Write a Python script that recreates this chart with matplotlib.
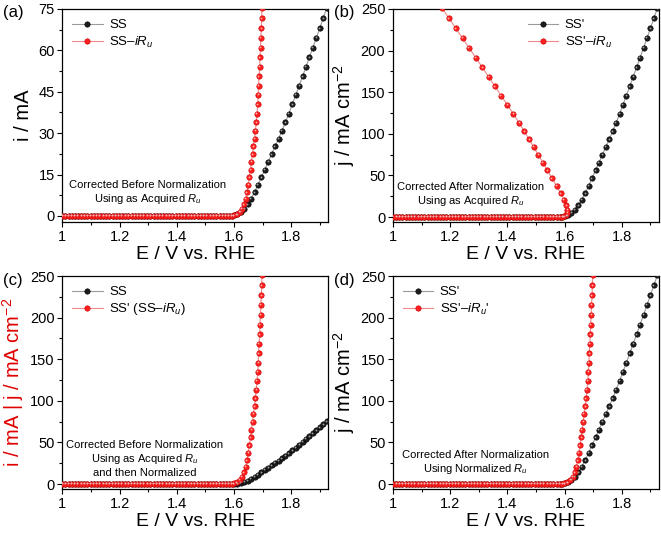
import matplotlib
matplotlib.use("Agg")
import matplotlib.pyplot as plt
import matplotlib.transforms as mtransforms
from matplotlib.ticker import MultipleLocator, FormatStrFormatter

plt.rcParams['font.family'] = 'Liberation Sans'
plt.rcParams['mathtext.fontset'] = 'custom'
plt.rcParams['mathtext.rm'] = 'Liberation Sans'
plt.rcParams['mathtext.it'] = 'Liberation Sans:italic'

# flat part of the sweep (no current, no correction)
E_base = [1.000, 1.011, 1.022, 1.033, 1.044, 1.055, 1.066, 1.077, 1.088, 1.099,
          1.110, 1.121, 1.132, 1.143, 1.154, 1.165, 1.176, 1.187, 1.198, 1.209,
          1.220, 1.231, 1.242, 1.253, 1.264, 1.275, 1.286, 1.297, 1.308, 1.319,
          1.330, 1.341, 1.352, 1.363, 1.374, 1.385, 1.396, 1.407, 1.418, 1.429,
          1.440, 1.451, 1.462, 1.473, 1.484, 1.495, 1.506, 1.517, 1.528, 1.539,
          1.550, 1.561, 1.572, 1.583, 1.592]
i_base = [0.0] * len(E_base)

# SS: raw sweep, current in mA
E_ss = [1.600, 1.612, 1.624, 1.636, 1.648, 1.660, 1.672, 1.684, 1.696, 1.708,
        1.720, 1.732, 1.744, 1.756, 1.768, 1.780, 1.792, 1.804, 1.816, 1.828,
        1.840, 1.852, 1.864, 1.876, 1.888, 1.900, 1.912, 1.924]
i_ss = [0.2, 0.6, 1.4, 2.6, 4.2, 6.2, 8.6, 11.2, 14.0, 16.8,
        19.6, 22.4, 25.2, 28.0, 30.9, 33.9, 37.1, 40.4, 43.8, 47.2,
        50.6, 54.0, 57.5, 61.0, 64.5, 68.0, 71.6, 75.2]

# SS-iRu: corrected potential
E_ss_ir = [1.599, 1.610, 1.620, 1.628, 1.635, 1.641, 1.646, 1.650, 1.654, 1.658,
           1.661, 1.665, 1.668, 1.672, 1.675, 1.678, 1.681, 1.683, 1.685, 1.686,
           1.688, 1.690, 1.691, 1.693, 1.694, 1.696, 1.697, 1.698]

# SS': normalised current density, mA cm-2
j_ss = [0.7, 2.0, 4.7, 8.7, 14.0, 20.7, 28.7, 37.3, 46.7, 56.0,
        65.3, 74.7, 84.0, 93.3, 103.0, 113.0, 123.7, 134.7, 146.0, 157.3,
        168.7, 180.0, 191.7, 203.3, 215.0, 226.7, 238.7, 250.7]

# SS'-iRu with the as-acquired Ru (panel b)
E_ss_ir_b = [1.598, 1.606, 1.610, 1.610, 1.606, 1.598, 1.586, 1.572, 1.556, 1.540,
             1.524, 1.508, 1.492, 1.476, 1.459, 1.441, 1.421, 1.400, 1.378, 1.356,
             1.334, 1.312, 1.289, 1.266, 1.243, 1.220, 1.196, 1.172]

x_black = E_base + E_ss
x_red = E_base + E_ss_ir
x_red_b = E_base + E_ss_ir_b
y_i = i_base + i_ss
y_j = i_base + j_ss

fig = plt.figure(figsize=(6.61, 5.34), dpi=100)
W, H = 661, 534
boxes = {'a': (62.3, 9), 'b': (393, 9), 'c': (62.3, 276), 'd': (393, 276)}
axw, axh = 266, 213
axes = {}
for k, (l, t) in boxes.items():
    axes[k] = fig.add_axes([l / W, 1 - (t + axh) / H, axw / W, axh / H])

LEG = dict(frameon=False, fontsize=9.5, handlelength=2.3, borderaxespad=0.35,
           labelspacing=0.25, handletextpad=0.5)
NOTE = dict(ha='center', va='center', fontsize=8, linespacing=1.25)


def balls(ax, x, y, red, label):
    if red:
        line, face, edge, shine = '#f08a8a', '#ff1f1f', '#c80000', '#ffb0b0'
    else:
        line, face, edge, shine = '#9a9a9a', '#1c1c1c', '#000000', '#a0a0a0'
    ax.plot(x, y, '-', color=line, lw=0.8, marker='o', ms=3.9, mfc=face,
            mec=edge, mew=0.4, label=label, zorder=3)
    hl = mtransforms.offset_copy(ax.transData, fig=ax.figure, x=-0.45, y=0.45, units='points')
    ax.plot(x, y, ls='none', marker='o', ms=1.3, mfc=shine, mec='none',
            transform=hl, zorder=4)


def style(ax, ymax, major, minor):
    ax.set_xlim(1.0, 1.93)
    ax.set_ylim(-6 if ymax > 100 else -2.2, ymax)
    ax.xaxis.set_major_locator(MultipleLocator(0.2))
    ax.xaxis.set_minor_locator(MultipleLocator(0.1))
    ax.xaxis.set_major_formatter(FormatStrFormatter('%g'))
    ax.yaxis.set_major_locator(MultipleLocator(major))
    ax.yaxis.set_minor_locator(MultipleLocator(minor))
    ax.tick_params(which='both', direction='out', labelsize=10.5, width=0.8,
                   top=False, right=False)
    ax.tick_params(which='major', length=3.5, pad=2)
    ax.tick_params(which='minor', length=2)
    for s in ax.spines.values():
        s.set_linewidth(0.9)
    ax.set_xlabel('E / V vs. RHE', fontsize=14, labelpad=2)


# (a)
ax = axes['a']
balls(ax, x_black, y_i, False, 'SS')
balls(ax, x_red, y_i, True, 'SS\u2013$iR_u$')
style(ax, 75, 15, 7.5)
ax.set_ylabel('i / mA', fontsize=14.5, labelpad=4)
ax.text(0.32, 0.135, 'Corrected Before Normalization\nUsing as Acquired $R_u$',
        transform=ax.transAxes, **NOTE)
ax.legend(loc='upper left', **LEG)

# (b)
ax = axes['b']
balls(ax, x_black, y_j, False, "SS'")
balls(ax, x_red_b, y_j, True, "SS'\u2013$iR_u$")
style(ax, 250, 50, 25)
ax.set_ylabel('j / mA cm$^{-2}$', fontsize=14.5, labelpad=3)
ax.text(0.293, 0.127, 'Corrected After Normalization\nUsing as Acquired $R_u$',
        transform=ax.transAxes, **NOTE)
ax.legend(loc='upper left', bbox_to_anchor=(0.47, 1.0), **LEG)

# (c)
ax = axes['c']
balls(ax, x_black, y_i, False, 'SS')
balls(ax, x_red, y_j, True, "SS' (SS\u2013$iR_u$)")
style(ax, 250, 50, 25)
ax.set_ylabel('i / mA | j / mA cm$^{-2}$', fontsize=14.5, labelpad=3, color='#e00000')
ax.text(0.31, 0.14, 'Corrected Before Normalization\nUsing as Acquired $R_u$\nand then Normalized',
        transform=ax.transAxes, **NOTE)
ax.legend(loc='upper left', **LEG)

# (d)
ax = axes['d']
balls(ax, x_black, y_j, False, "SS'")
balls(ax, x_red, y_j, True, "SS'\u2013$iR_u$'")
style(ax, 250, 50, 25)
ax.set_ylabel('j / mA cm$^{-2}$', fontsize=14.5, labelpad=3)
ax.text(0.31, 0.122, 'Corrected After Normalization\nUsing Normalized $R_u$',
        transform=ax.transAxes, **NOTE)
ax.legend(loc='upper left', **LEG)

for lab, (x, y) in zip(['(a)', '(b)', '(c)', '(d)'],
                       [(3, 13), (334, 13), (3, 280), (334, 280)]):
    fig.text(x / W, 1 - y / H, lab, fontsize=12, ha='left', va='center')

fig.savefig('out.png', dpi=100)
